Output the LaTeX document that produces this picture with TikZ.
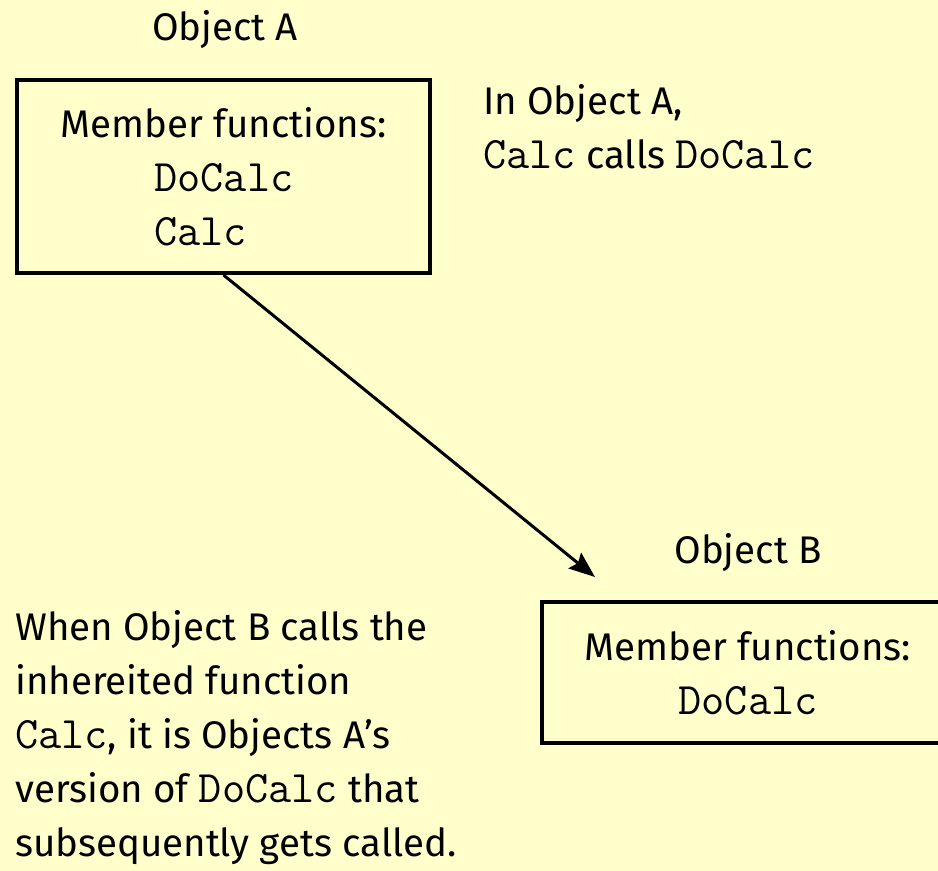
\documentclass[tikz,border=0pt]{standalone}
\usepackage{fontspec}
\setmainfont{Fira Sans}
\usetikzlibrary{positioning}
\usetikzlibrary{arrows.meta}
\definecolor{paper}{HTML}{FFFFCC}
\tikzset{
	memberbox/.style={draw, line width=4pt, minimum width=413pt, inner sep=0pt},
	bodytext/.style={font=\fontsize{38.5}{54}\selectfont, inner sep=0pt}
}
\newcommand{\fn}[1]{{\fontsize{45}{54}\selectfont\ttfamily #1}}
\begin{document}
\begin{tikzpicture}[x=1pt,y=-1pt]
	    \useasboundingbox (0,0) rectangle (938,871);
	    \clip (0,0) rectangle (938,871);
	    \fill[paper] (0,0) rectangle (938,871);
	    \node(objA) [bodytext] at (225,30) {Object A};
	    \node(boxA) [memberbox, bodytext, minimum height=193pt, align=left] at (223.5,176.5)
	        {Member functions:\\\hspace*{94pt}\fn{DoCalc}\\\hspace*{94pt}\fn{Calc}};
	    \node(noteA) [bodytext, align=left, anchor=north west] at (483,84)
	        {In Object A,\\\fn{Calc} calls \fn{DoCalc}};
	    \node(objB) [bodytext] at (748,553) {Object B};
	    \node(boxB) [memberbox, bodytext, minimum height=141pt, align=center] at (748,672.5)
	        {Member functions:\\\fn{DoCalc}};
	    \node(noteB) [bodytext, align=left, anchor=north west] at (15,610)
	        {When Object B calls the\\inhereited function\\\fn{Calc}, it is Objects A's\\version of \fn{DoCalc} that\\subsequently gets called.};
	    \coordinate(tipB) at (595,577);
	    \draw[line width=3pt, -{Stealth[length=26pt,width=20pt,inset=4pt]}] (boxA.south) -- (tipB);
	  \end{tikzpicture}
\end{document}
